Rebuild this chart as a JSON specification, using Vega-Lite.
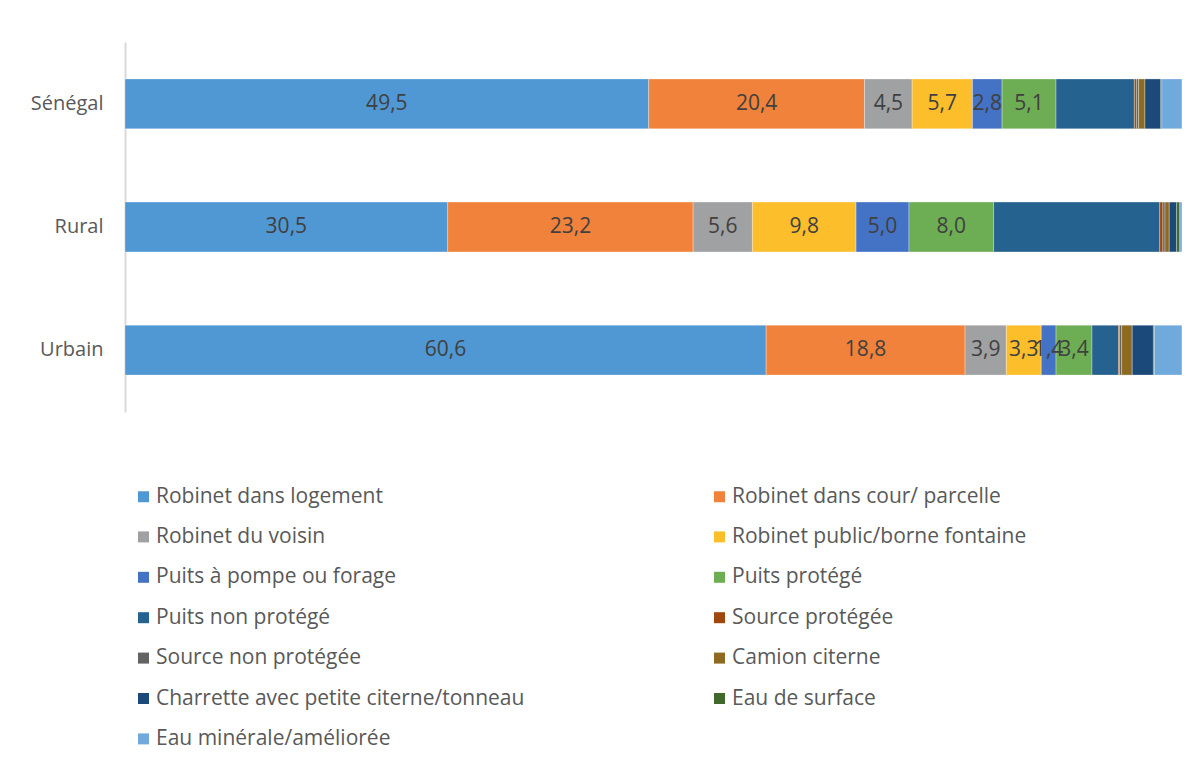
{
  "$schema": "https://vega.github.io/schema/vega-lite/v6.json",
  "width": 1058,
  "height": 370,
  "autosize": {"type": "none"},
  "padding": {"left": 125, "top": 42, "right": 13, "bottom": 351},
  "background": "white",
  "config": {
    "view": {"stroke": null},
    "font": "Open Sans",
    "locale": {"number": {"decimal": ",", "thousands": " ", "grouping": [3], "currency": ["", " €"]}}
  },
  "data": {
    "values": [
      {"zone": "Sénégal", "source": "Robinet dans logement", "rang": 1, "pct": 49.5},
      {"zone": "Sénégal", "source": "Robinet dans cour/ parcelle", "rang": 2, "pct": 20.4},
      {"zone": "Sénégal", "source": "Robinet du voisin", "rang": 3, "pct": 4.5},
      {"zone": "Sénégal", "source": "Robinet public/borne fontaine", "rang": 4, "pct": 5.7},
      {"zone": "Sénégal", "source": "Puits à pompe ou forage", "rang": 5, "pct": 2.8},
      {"zone": "Sénégal", "source": "Puits protégé", "rang": 6, "pct": 5.1},
      {"zone": "Sénégal", "source": "Puits non protégé", "rang": 7, "pct": 7.4},
      {"zone": "Sénégal", "source": "Source protégée", "rang": 8, "pct": 0.2},
      {"zone": "Sénégal", "source": "Source non protégée", "rang": 9, "pct": 0.2},
      {"zone": "Sénégal", "source": "Camion citerne", "rang": 10, "pct": 0.6},
      {"zone": "Sénégal", "source": "Charrette avec petite citerne/tonneau", "rang": 11, "pct": 1.5},
      {"zone": "Sénégal", "source": "Eau de surface", "rang": 12, "pct": 0.1},
      {"zone": "Sénégal", "source": "Eau minérale/améliorée", "rang": 13, "pct": 1.9},
      {"zone": "Rural", "source": "Robinet dans logement", "rang": 1, "pct": 30.5},
      {"zone": "Rural", "source": "Robinet dans cour/ parcelle", "rang": 2, "pct": 23.2},
      {"zone": "Rural", "source": "Robinet du voisin", "rang": 3, "pct": 5.6},
      {"zone": "Rural", "source": "Robinet public/borne fontaine", "rang": 4, "pct": 9.8},
      {"zone": "Rural", "source": "Puits à pompe ou forage", "rang": 5, "pct": 5.0},
      {"zone": "Rural", "source": "Puits protégé", "rang": 6, "pct": 8.0},
      {"zone": "Rural", "source": "Puits non protégé", "rang": 7, "pct": 15.7},
      {"zone": "Rural", "source": "Source protégée", "rang": 8, "pct": 0.3},
      {"zone": "Rural", "source": "Source non protégée", "rang": 9, "pct": 0.2},
      {"zone": "Rural", "source": "Camion citerne", "rang": 10, "pct": 0.4},
      {"zone": "Rural", "source": "Charrette avec petite citerne/tonneau", "rang": 11, "pct": 0.7},
      {"zone": "Rural", "source": "Eau de surface", "rang": 12, "pct": 0.3},
      {"zone": "Rural", "source": "Eau minérale/améliorée", "rang": 13, "pct": 0.2},
      {"zone": "Urbain", "source": "Robinet dans logement", "rang": 1, "pct": 60.6},
      {"zone": "Urbain", "source": "Robinet dans cour/ parcelle", "rang": 2, "pct": 18.8},
      {"zone": "Urbain", "source": "Robinet du voisin", "rang": 3, "pct": 3.9},
      {"zone": "Urbain", "source": "Robinet public/borne fontaine", "rang": 4, "pct": 3.3},
      {"zone": "Urbain", "source": "Puits à pompe ou forage", "rang": 5, "pct": 1.4},
      {"zone": "Urbain", "source": "Puits protégé", "rang": 6, "pct": 3.4},
      {"zone": "Urbain", "source": "Puits non protégé", "rang": 7, "pct": 2.5},
      {"zone": "Urbain", "source": "Source protégée", "rang": 8, "pct": 0.1},
      {"zone": "Urbain", "source": "Source non protégée", "rang": 9, "pct": 0.2},
      {"zone": "Urbain", "source": "Camion citerne", "rang": 10, "pct": 1.0},
      {"zone": "Urbain", "source": "Charrette avec petite citerne/tonneau", "rang": 11, "pct": 2.0},
      {"zone": "Urbain", "source": "Eau de surface", "rang": 12, "pct": 0.1},
      {"zone": "Urbain", "source": "Eau minérale/améliorée", "rang": 13, "pct": 2.6}
    ]
  },
  "transform": [
    {"stack": "pct", "groupby": ["zone"], "sort": [{"field": "rang", "order": "ascending"}], "as": ["x0", "x1"]},
    {"calculate": "(datum.x0 + datum.x1) / 2", "as": "xmid"}
  ],
  "layer": [
    {
      "mark": {"type": "bar", "stroke": "white", "strokeWidth": 0.5, "strokeOpacity": 0.6},
      "encoding": {
        "y": {
          "field": "zone", "type": "nominal", "sort": ["Sénégal", "Rural", "Urbain"],
          "scale": {"paddingInner": 0.595, "paddingOuter": 0.3},
          "axis": {"title": null, "ticks": false, "domainColor": "#D9D9D9", "domainWidth": 2, "labelFontSize": 20, "labelColor": "#595959", "labelPadding": 22, "labelFont": "Open Sans"}
        },
        "x": {"field": "x0", "type": "quantitative", "scale": {"domain": [0, 100], "nice": false}, "axis": null},
        "x2": {"field": "x1"},
        "color": {
          "field": "source", "type": "nominal",
          "scale": {
            "domain": ["Robinet dans logement", "Robinet dans cour/ parcelle", "Robinet du voisin", "Robinet public/borne fontaine", "Puits à pompe ou forage", "Puits protégé", "Puits non protégé", "Source protégée", "Source non protégée", "Camion citerne", "Charrette avec petite citerne/tonneau", "Eau de surface", "Eau minérale/améliorée"],
            "range": ["#5098D3", "#F0823B", "#A0A1A3", "#FDBE2B", "#4472C4", "#6DAE55", "#26628F", "#9E480E", "#636363", "#8E6A20", "#1B4A7A", "#43682B", "#70A9DB"]
          },
          "legend": {
            "title": null, "orient": "none", "legendX": 8, "legendY": 444, "columns": 2, "direction": "horizontal",
            "columnPadding": 184, "rowPadding": 18.4, "padding": 0,
            "symbolType": "square", "symbolSize": 121, "symbolStrokeWidth": 0,
            "labelFontSize": 21, "labelColor": "#595959", "labelOffset": 2, "labelLimit": 500, "labelFont": "Open Sans"
          }
        }
      }
    },
    {
      "transform": [{"filter": {"field": "rang", "lte": 6}}],
      "mark": {"type": "text", "fontSize": 21, "color": "#404040", "font": "Open Sans", "baseline": "middle", "align": "center"},
      "encoding": {
        "y": {"field": "zone", "type": "nominal", "sort": ["Sénégal", "Rural", "Urbain"]},
        "x": {"field": "xmid", "type": "quantitative"},
        "text": {"field": "pct", "type": "quantitative", "format": ".1f"}
      }
    }
  ]
}
